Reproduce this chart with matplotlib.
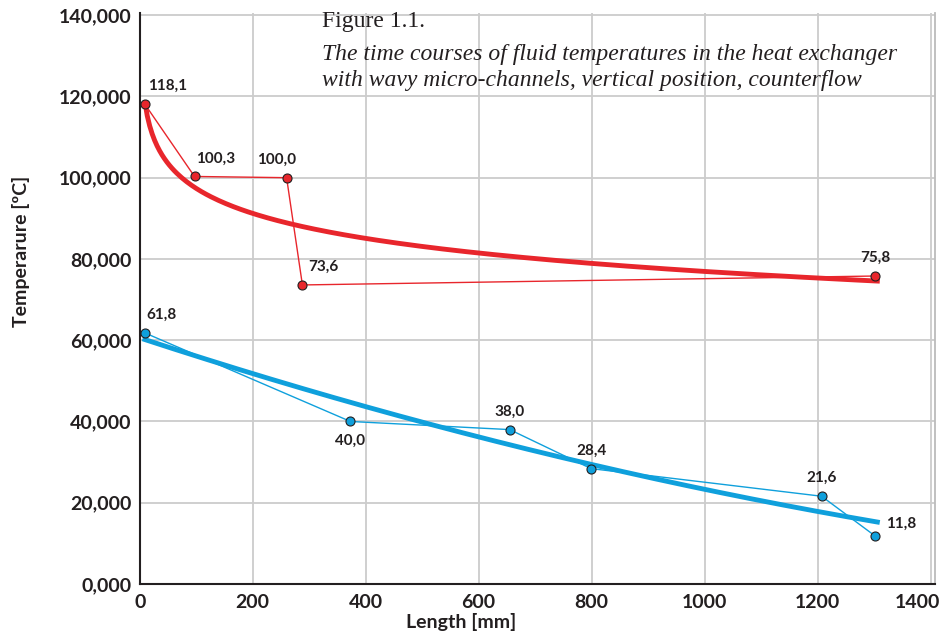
import numpy as np
import matplotlib
matplotlib.use("Agg")
import matplotlib.pyplot as plt
import matplotlib.transforms as mtransforms

# data
hot_x = [9, 97, 260, 288, 1302]
hot_y = [118.1, 100.3, 100.0, 73.6, 75.8]
cold_x = [9, 373, 655, 799, 1207, 1302]
cold_y = [61.8, 40.0, 38.0, 28.4, 21.6, 11.8]
x_ticks = [0, 200, 400, 600, 800, 1000, 1200, 1400]
y_ticks = [0, 20, 40, 60, 80, 100, 120, 140]
title_lines = ["Figure 1.1.",
               "The time courses of fluid temperatures in the heat exchanger",
               "with wavy micro-channels, vertical position, counterflow"]

RED = "#e8262c"
BLUE = "#0fa0dc"
DARK = "#231f20"
plt.rcParams['font.family'] = ['Lato', 'DejaVu Sans']

fig = plt.figure(figsize=(9.44, 6.40), dpi=100)
ax = fig.add_axes([0.148, 0.0875, 0.842, 0.892])

# trend lines (Excel-like fits)
a, b = np.polyfit(np.log(hot_x), hot_y, 1)
xt = np.linspace(hot_x[0], hot_x[-1] + 8, 300)
ax.plot(xt, a * np.log(xt) + b, color=RED, lw=3.5, zorder=3, solid_capstyle='butt')

p = np.polyfit(cold_x, cold_y, 2)
xc = np.linspace(5, 1310, 300)
ax.plot(xc, np.polyval(p, xc), color=BLUE, lw=3.5, zorder=3, solid_capstyle='butt')

# data lines
ax.plot(hot_x, hot_y, color=RED, lw=1, zorder=4, marker='o', ms=6.5,
        markerfacecolor=RED, markeredgecolor=DARK, markeredgewidth=0.8)
ax.plot(cold_x, cold_y, color=BLUE, lw=1, zorder=4, marker='o', ms=6.5,
        markerfacecolor=BLUE, markeredgecolor=DARK, markeredgewidth=0.8)

def lab(v):
    return f"{v:.1f}".replace('.', ',')

hot_off = [(2, 8), (1, 8), (-21, 8), (4, 8), (0, 8)]
hot_ha = ['left', 'left', 'left', 'left', 'center']
for x, y, off, ha in zip(hot_x, hot_y, hot_off, hot_ha):
    ax.annotate(lab(y), (x, y), xytext=off, textcoords='offset points', ha=ha,
                va='bottom', fontsize=11, fontweight='bold', color=DARK, zorder=6)
cold_off = [(1, 8), (0, -9), (0, 8), (0, 8), (0, 8), (8, 4)]
cold_va = ['bottom', 'top', 'bottom', 'bottom', 'bottom', 'bottom']
cold_ha = ['left', 'center', 'center', 'center', 'center', 'left']
for x, y, off, ha, va in zip(cold_x, cold_y, cold_off, cold_ha, cold_va):
    ax.annotate(lab(y), (x, y), xytext=off, textcoords='offset points', ha=ha,
                va=va, fontsize=11, fontweight='bold', color=DARK, zorder=6)

ax.set_xlim(0, 1407)
ax.set_ylim(0, 140.5)
ax.set_xticks(x_ticks)
ax.set_xticklabels([str(t) for t in x_ticks])
ax.set_yticks(y_ticks)
ax.set_yticklabels([f"{t:.3f}".replace('.', ',') for t in y_ticks])
ax.tick_params(length=0, labelsize=14, colors=DARK)
ax.tick_params(axis='x', pad=7)
ax.tick_params(axis='y', pad=6)
for lbl in ax.get_xticklabels() + ax.get_yticklabels():
    lbl.set_fontweight('bold')
xl = ax.get_xticklabels()
xl[-1].set_horizontalalignment('right')
xl[-1].set_transform(xl[-1].get_transform() + mtransforms.ScaledTranslation(10 / 100, 0, fig.dpi_scale_trans))

ax.grid(True, color='#cccccc', lw=1.3)
ax.set_axisbelow(True)
ax.spines['top'].set_visible(False)
ax.spines['right'].set_color('#bbbbbb')
ax.spines['right'].set_linewidth(1.3)
for s in ['left', 'bottom']:
    ax.spines[s].set_color(DARK)
    ax.spines[s].set_linewidth(1.5)

ax.set_xlabel("Length [mm]", fontsize=14, fontweight='bold', color=DARK)
ax.set_ylabel("Temperarure [ºC]", fontsize=14, fontweight='bold', color=DARK)
ax.xaxis.set_label_coords(0.404, -0.051)
ax.yaxis.set_label_coords(-0.138, 0.582)

# title
fig.text(0.341, 0.983, title_lines[0], family='Liberation Serif', fontsize=17,
         va='top', ha='left', color=DARK)
fig.text(0.341, 0.932, title_lines[1] + "\n" + title_lines[2], family='Liberation Serif',
         fontsize=17, style='italic', va='top', ha='left', color=DARK, linespacing=1.35)

fig.savefig("out.png", dpi=100)
